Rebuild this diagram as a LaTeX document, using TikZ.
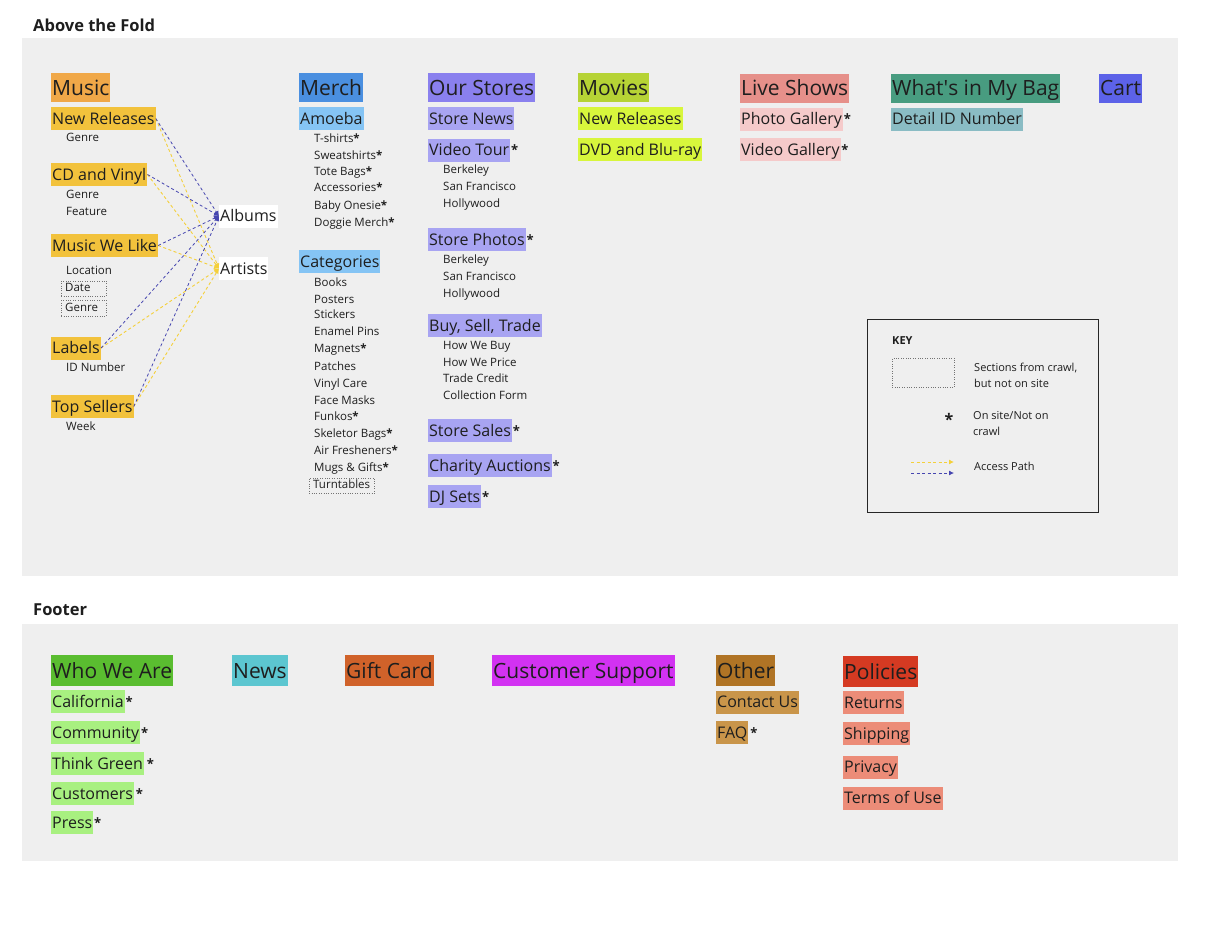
\documentclass[tikz,border=0pt]{standalone}
\usepackage{fontspec}
\setmainfont{Open Sans}
\usepackage{xcolor}
\usepackage{tikz}
\usetikzlibrary{arrows.meta,positioning}

\definecolor{panelc}{HTML}{EFEFEF}
\definecolor{textc}{HTML}{1E1E1E}
\definecolor{cMusic}{HTML}{F0A848}
\definecolor{cMusicSub}{HTML}{F2C23C}
\definecolor{cMerch}{HTML}{4A8FE0}
\definecolor{cMerchSub}{HTML}{85C4F4}
\definecolor{cStores}{HTML}{8A80EE}
\definecolor{cStoresSub}{HTML}{A8A4F2}
\definecolor{cMovies}{HTML}{B6D335}
\definecolor{cMoviesSub}{HTML}{D8F63C}
\definecolor{cLive}{HTML}{E6908A}
\definecolor{cLiveSub}{HTML}{F5CACA}
\definecolor{cBag}{HTML}{489C80}
\definecolor{cBagSub}{HTML}{8ABCC4}
\definecolor{cCart}{HTML}{5C62E8}
\definecolor{cWho}{HTML}{5ABD30}
\definecolor{cWhoSub}{HTML}{A8F080}
\definecolor{cNews}{HTML}{5CC6D0}
\definecolor{cGift}{HTML}{D0622A}
\definecolor{cSupport}{HTML}{D232F2}
\definecolor{cOther}{HTML}{B07425}
\definecolor{cOtherSub}{HTML}{C9954A}
\definecolor{cPolicy}{HTML}{D53A22}
\definecolor{cPolicySub}{HTML}{EC8C78}
\definecolor{pathblue}{HTML}{4646B0}
\definecolor{pathyellow}{HTML}{F4D03A}

\begin{document}
\begin{tikzpicture}[x=1pt, y=-1pt, text=textc,
    title/.style={font=\bfseries\fontsize{16.5}{18}\selectfont, anchor=west, inner sep=0pt},
    hdr/.style={font=\fontsize{21}{24}\selectfont, anchor=west, inner xsep=1pt, inner ysep=0pt,
        text height=17pt, text depth=2pt, minimum height=29pt},
    subhdr/.style={font=\fontsize{16}{19}\selectfont, anchor=west, inner xsep=1pt, inner ysep=0pt,
        text height=13.5pt, text depth=2pt, minimum height=23pt},
    leaf/.style={font=\fontsize{11.5}{13}\selectfont, anchor=west, inner sep=0pt,
        text height=8.5pt, text depth=2pt},
    crawl/.style={leaf, draw=black!55, dotted, inner xsep=4pt, inner ysep=2.5pt},
    onsite/.style={font=\bfseries\fontsize{13}{13}\selectfont, inner sep=0.5pt},
    hub/.style={subhdr, fill=white},
    keytext/.style={font=\fontsize{11}{16}\selectfont, anchor=west, align=left, inner sep=0pt},
    bluepath/.style={-{Latex[length=5pt,width=5pt]}, draw=pathblue, dash pattern=on 3pt off 2.5pt, line width=0.8pt},
    yellowpath/.style={-{Latex[length=5pt,width=5pt]}, draw=pathyellow, dash pattern=on 3pt off 2.5pt, line width=0.9pt}
]
\useasboundingbox (0,0) rectangle (1213,924);

% Panels
\fill[panelc] (22,38) rectangle (1178,576);
\fill[panelc] (22,624) rectangle (1178,861);
\node[title] (fold) at (33,25) {Above the Fold};
\node[title] (footer) at (33,610) {Footer};

% Music
\node[hdr, fill=cMusic] (music) at (51,87.5) {Music};
\node[subhdr, fill=cMusicSub] (newrel) at (51,118.5) {New Releases};
\node[leaf] (nrgenre) at (66,138) {Genre};
\node[subhdr, fill=cMusicSub] (cdvinyl) at (51,174.5) {CD and Vinyl};
\node[leaf] (cdgenre) at (66,195) {Genre};
\node[leaf] (cdfeature) at (66,212) {Feature};
\node[subhdr, fill=cMusicSub] (mwl) at (51,245.5) {Music We Like};
\node[leaf] (mwlloc) at (66,271) {Location};
\node[crawl, text width=37pt] (mwldate) at (61,288.5) {Date};
\node[crawl, text width=37pt] (mwlgenre) at (61,308) {Genre};
\node[subhdr, fill=cMusicSub] (labels) at (51,348) {Labels};
\node[leaf] (labelid) at (66,368) {ID Number};
\node[subhdr, fill=cMusicSub] (topsell) at (51,406.5) {Top Sellers};
\node[leaf] (tsweek) at (66,427) {Week};
\node[hub] (albums) at (219,216) {Albums};
\node[hub] (artists) at (219,268.5) {Artists};

% Merch
\node[hdr, fill=cMerch] (merch) at (299,87.5) {Merch};
\node[subhdr, fill=cMerchSub] (amoeba) at (299,118.5) {Amoeba};
\node[leaf] (tshirts) at (314,139) {T-shirts\textbf{*}};
\node[leaf] (sweat) at (314,156) {Sweatshirts\textbf{*}};
\node[leaf] (tote) at (314,172) {Tote Bags\textbf{*}};
\node[leaf] (access) at (314,188) {Accessories\textbf{*}};
\node[leaf] (onesie) at (314,206) {Baby Onesie\textbf{*}};
\node[leaf] (doggie) at (314,223) {Doggie Merch\textbf{*}};
\node[subhdr, fill=cMerchSub] (categ) at (299,261.5) {Categories};
\node[leaf] (books) at (314,283) {Books};
\node[leaf] (posters) at (314,300) {Posters};
\node[leaf] (stickers) at (314,315) {Stickers};
\node[leaf] (pins) at (314,332) {Enamel Pins};
\node[leaf] (magnets) at (314,349) {Magnets\textbf{*}};
\node[leaf] (patches) at (314,367) {Patches};
\node[leaf] (vinylcare) at (314,384) {Vinyl Care};
\node[leaf] (masks) at (314,401) {Face Masks};
\node[leaf] (funkos) at (314,417) {Funkos\textbf{*}};
\node[leaf] (skeletor) at (314,434) {Skeletor Bags\textbf{*}};
\node[leaf] (fresh) at (314,451) {Air Fresheners\textbf{*}};
\node[leaf] (mugs) at (314,468) {Mugs \& Gifts\textbf{*}};
\node[crawl] (turntab) at (309,485.5) {Turntables};

% Our Stores
\node[hdr, fill=cStores] (stores) at (428,87.5) {Our Stores};
\node[subhdr, fill=cStoresSub] (storenews) at (428,118.5) {Store News};
\node[subhdr, fill=cStoresSub] (vidtour) at (428,150) {Video Tour};
\node[onsite, right=0pt of vidtour] (vidtourst) {*};
\node[leaf] (vtberk) at (443,170) {Berkeley};
\node[leaf] (vtsf) at (443,187.5) {San Francisco};
\node[leaf] (vtholly) at (443,204) {Hollywood};
\node[subhdr, fill=cStoresSub] (storephot) at (428,239.5) {Store Photos};
\node[onsite, right=0pt of storephot] (storephotst) {*};
\node[leaf] (spberk) at (443,260) {Berkeley};
\node[leaf] (spsf) at (443,277) {San Francisco};
\node[leaf] (spholly) at (443,294) {Hollywood};
\node[subhdr, fill=cStoresSub] (bst) at (428,325.5) {Buy, Sell, Trade};
\node[leaf] (howbuy) at (443,346) {How We Buy};
\node[leaf] (howprice) at (443,363) {How We Price};
\node[leaf] (credit) at (443,379) {Trade Credit};
\node[leaf] (collect) at (443,396) {Collection Form};
\node[subhdr, fill=cStoresSub] (sales) at (428,430.5) {Store Sales};
\node[onsite, right=0pt of sales] (salesst) {*};
\node[subhdr, fill=cStoresSub] (charity) at (428,465.5) {Charity Auctions};
\node[onsite, right=0pt of charity] (charityst) {*};
\node[subhdr, fill=cStoresSub] (djsets) at (428,496.5) {DJ Sets};
\node[onsite, right=0pt of djsets] (djsetsst) {*};

% Movies, Live Shows, Bag, Cart
\node[hdr, fill=cMovies] (movies) at (578,87.5) {Movies};
\node[subhdr, fill=cMoviesSub] (movnew) at (578,118.5) {New Releases};
\node[subhdr, fill=cMoviesSub] (dvd) at (578,149.5) {DVD and Blu-ray};
\node[hdr, fill=cLive] (live) at (740,88) {Live Shows};
\node[subhdr, fill=cLiveSub] (photogal) at (740,119) {Photo Gallery};
\node[onsite, right=0pt of photogal] (photogalst) {*};
\node[subhdr, fill=cLiveSub] (videogal) at (740,149.5) {Video Gallery};
\node[onsite, right=0pt of videogal] (videogalst) {*};
\node[hdr, fill=cBag] (bag) at (891,88) {What\textquotesingle s in My Bag};
\node[subhdr, fill=cBagSub] (detailid) at (891,119) {Detail ID Number};
\node[hdr, fill=cCart] (cart) at (1099,88) {Cart};

% Key
\node[draw=black!85, line width=1.2pt, minimum width=231pt, minimum height=193pt, anchor=north west, inner sep=0pt] (keybox) at (867,319) {};
\node[font=\bfseries\fontsize{11}{13}\selectfont, anchor=west, inner sep=0pt] (keytitle) at (892,341) {KEY};
\node[draw=black!55, dotted, minimum width=62pt, minimum height=29pt, anchor=north west, inner sep=0pt] (keycrawl) at (892,358) {};
\node[keytext] (keycrawltx) at (974,375) {Sections from crawl,\\but not on site};
\node[onsite, font=\bfseries\fontsize{16}{16}\selectfont] (keystar) at (949,419) {*};
\node[keytext] (keystartx) at (973,423.5) {On site/Not on\\crawl};
\coordinate (kya) at (911,462);
\coordinate (kyb) at (954,462);
\coordinate (kbc) at (911,473);
\coordinate (kbd) at (954,473);
\draw[yellowpath] (kya) -- (kyb);
\draw[bluepath] (kbc) -- (kbd);
\node[keytext] (keypathtx) at (974,466) {Access Path};

% Access paths
\draw[yellowpath] (newrel.east) -- (artists.west);
\draw[yellowpath] (cdvinyl.east) -- (artists.west);
\draw[yellowpath] (mwl.east) -- (artists.west);
\draw[yellowpath] (labels.east) -- (artists.west);
\draw[yellowpath] (topsell.east) -- (artists.west);
\draw[bluepath] (newrel.east) -- (albums.west);
\draw[bluepath] (cdvinyl.east) -- (albums.west);
\draw[bluepath] (mwl.east) -- (albums.west);
\draw[bluepath] (labels.east) -- (albums.west);
\draw[bluepath] (topsell.east) -- (albums.west);

% Footer
\node[hdr, fill=cWho, minimum height=31pt] (who) at (51,670.5) {Who We Are};
\node[subhdr, fill=cWhoSub] (calif) at (51,701.5) {California};
\node[onsite, right=0pt of calif] (califst) {*};
\node[subhdr, fill=cWhoSub] (commun) at (51,732.5) {Community};
\node[onsite, right=0pt of commun] (communst) {*};
\node[subhdr, fill=cWhoSub] (green) at (51,763.5) {Think Green};
\node[onsite, right=2pt of green] (greenst) {*};
\node[subhdr, fill=cWhoSub] (custom) at (51,793.5) {Customers};
\node[onsite, right=1pt of custom] (customst) {*};
\node[subhdr, fill=cWhoSub] (press) at (51,822.5) {Press};
\node[onsite, right=0pt of press] (pressst) {*};
\node[hdr, fill=cNews, minimum height=31pt] (news) at (232,670.5) {News};
\node[hdr, fill=cGift, minimum height=31pt] (gift) at (345,670.5) {Gift Card};
\node[hdr, fill=cSupport, minimum height=31pt] (support) at (492,670.5) {Customer Support};
\node[hdr, fill=cOther, minimum height=31pt] (other) at (716,670.5) {Other};
\node[subhdr, fill=cOtherSub] (contact) at (716,702) {Contact Us};
\node[subhdr, fill=cOtherSub] (faq) at (716,732.5) {FAQ};
\node[onsite, right=1pt of faq] (faqst) {*};
\node[hdr, fill=cPolicy, minimum height=31pt] (policies) at (843,671.5) {Policies};
\node[subhdr, fill=cPolicySub] (returns) at (843,702.5) {Returns};
\node[subhdr, fill=cPolicySub] (shipping) at (843,733.5) {Shipping};
\node[subhdr, fill=cPolicySub] (privacy) at (843,767) {Privacy};
\node[subhdr, fill=cPolicySub] (terms) at (843,798) {Terms of Use};

\end{tikzpicture}
\end{document}
